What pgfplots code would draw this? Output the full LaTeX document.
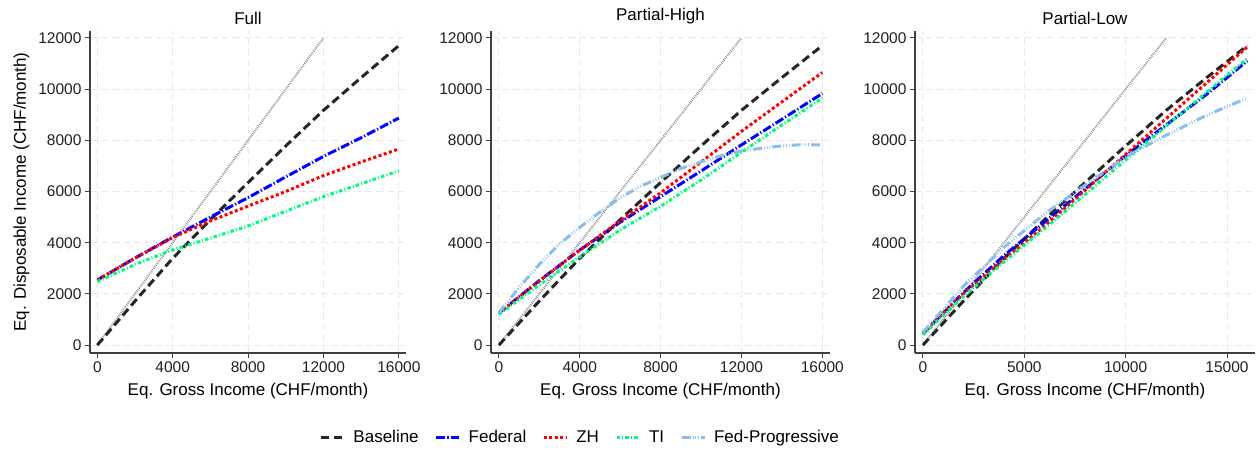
\documentclass[border=0pt]{standalone}
\usepackage{fontspec}
\setmainfont{Liberation Sans}
\usepackage{pgfplots}
\usepackage{pgfplotstable}
\pgfplotsset{compat=1.18}
\definecolor{basec}{HTML}{262626}
\definecolor{fedc}{HTML}{0000FF}
\definecolor{zhc}{HTML}{FF0000}
\definecolor{tic}{HTML}{00FA7D}
\definecolor{fpc}{HTML}{8CBEE8}
\definecolor{gridc}{HTML}{E9E9E9}
\definecolor{axc}{HTML}{404040}

% panel Full
\pgfplotstableread{
x     base  fed   zh    ti
0     0     2540  2540  2480
2000  1720  3400  3400  3150
4000  3390  4220  4200  3720
6000  4900  5000  4850  4180
8000  6350  5760  5430  4650
10000 7780  6570  6000  5230
12000 9170  7370  6620  5800
14000 10450 8100  7150  6300
16000 11700 8870  7660  6810
}\full
% panel Partial-High
\pgfplotstableread{
x     base  fed   zh    ti
0     0     1250  1250  1200
2000  1720  2520  2500  2350
4000  3390  3710  3710  3450
6000  4900  4800  4850  4500
8000  6350  5800  5950  5420
10000 7780  6800  7150  6450
12000 9170  7820  8350  7530
14000 10450 8820  9500  8600
16000 11700 9830  10650 9650
}\high
\pgfplotstableread{
x     fp
0     1260
1000  2250
2000  3150
3000  3950
4000  4600
5000  5200
6000  5750
7000  6200
8000  6550
9000  6900
10000 7150
11000 7400
12000 7580
13000 7690
14000 7780
15000 7830
16000 7820
}\highfp
% panel Partial-Low
\pgfplotstableread{
x     base  fed   zh    ti    fp
0     0     450   480   400   500
2000  1720  2050  2000  1900  2300
4000  3390  3500  3350  3250  3820
6000  4900  4800  4650  4550  5120
8000  6350  6100  6050  5880  6250
10000 7780  7400  7450  7230  7350
12000 9170  8600  8850  8560  8200
14000 10450 9800  10250 9880  8980
16000 11700 11100 11650 11200 9650
}\low

\pgfplotsset{
  panel/.style={
    scale only axis, height=322pt,
    xmin=-390, xmax=16380, ymin=-310, ymax=12270,
    axis lines=left, axis line style={-, axc, line width=1.2pt},
    ytick={0,2000,...,12000},
    tick align=outside, major tick length=5pt,
    tick style={axc, line width=1pt},
    grid=major, grid style={gridc, dash pattern=on 7pt off 4pt, line width=0.9pt},
    scaled ticks=false,
    tick label style={font=\fontsize{15.5}{16}\selectfont, text=black!88},
    /pgf/number format/assume math mode=true,
    /pgf/number format/1000 sep={},
    /pgf/number format/fixed,
    title style={font=\fontsize{17}{18}\selectfont, yshift=-3pt},
    label style={font=\fontsize{17}{18}\selectfont},
    xlabel={Eq. Gross Income (CHF/month)},
    xlabel style={yshift=-4pt},
  },
  diag/.style={black!50, line width=2pt, dash pattern=on 0.7pt off 1.2pt, forget plot},
  base/.style={basec, line width=3pt, dash pattern=on 8.5pt off 4.5pt},
  fed/.style={fedc, line width=3pt, dash pattern=on 9pt off 2.2pt on 1.2pt off 2.2pt},
  zh/.style={zhc, line width=3pt, dash pattern=on 3pt off 2.5pt},
  ti/.style={tic, line width=3pt, dash pattern=on 3.5pt off 2.2pt on 1pt off 2.2pt},
  fp/.style={fpc, line width=3pt, dash pattern=on 9pt off 2pt on 0.8pt off 2pt on 0.8pt off 2pt on 0.8pt off 2pt},
}

\begin{document}
\begin{tikzpicture}
\useasboundingbox (0,0) rectangle (1256pt,450pt);

\begin{axis}[panel, width=316pt, at={(90pt,97pt)}, anchor=south west,
  title={Full}, xtick={0,4000,...,16000},
  ylabel={Eq. Disposable Income (CHF/month)}, ylabel style={yshift=2pt}]
  \addplot[diag] coordinates {(0,0) (12000,12000)};
  \addplot[base] table[x=x,y=base] {\full};
  \addplot[fed] table[x=x,y=fed] {\full};
  \addplot[zh] table[x=x,y=zh] {\full};
  \addplot[ti] table[x=x,y=ti] {\full};
\end{axis}

\begin{axis}[panel, width=339pt, at={(491pt,97pt)}, anchor=south west,
  title={Partial-High}, xtick={0,4000,...,16000},
  legend style={at={(0.263,-0.261)}, anchor=center, draw=none, fill=none,
    legend columns=5, font=\fontsize{17}{18}\selectfont,
    /tikz/every odd column/.append style={column sep=6pt},
    /tikz/every even column/.append style={column sep=14pt}},
  legend image code/.code={\draw[#1] (0pt,0pt) -- (23pt,0pt);}]
  \addplot[diag] coordinates {(0,0) (12000,12000)};
  \addplot[base] table[x=x,y=base] {\high};
  \addplot[fed] table[x=x,y=fed] {\high};
  \addplot[zh] table[x=x,y=zh] {\high};
  \addplot[ti] table[x=x,y=ti] {\high};
  \addplot[fp] table[x=x,y=fp] {\highfp};
  \legend{Baseline,Federal,ZH,TI,Fed-Progressive}
\end{axis}

\begin{axis}[panel, width=340pt, at={(915pt,97pt)}, anchor=south west,
  title={Partial-Low}, xtick={0,5000,10000,15000}]
  \addplot[diag] coordinates {(0,0) (12000,12000)};
  \addplot[base] table[x=x,y=base] {\low};
  \addplot[fed] table[x=x,y=fed] {\low};
  \addplot[zh] table[x=x,y=zh] {\low};
  \addplot[ti] table[x=x,y=ti] {\low};
  \addplot[fp] table[x=x,y=fp] {\low};
\end{axis}
\end{tikzpicture}
\end{document}
